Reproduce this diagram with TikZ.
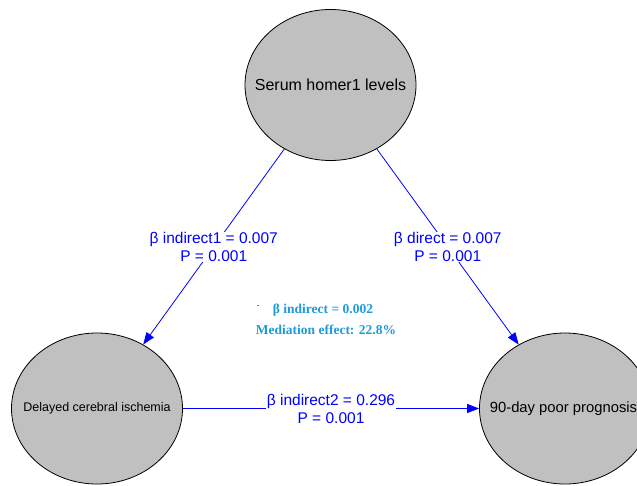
\documentclass[tikz,border=0pt]{standalone}
\usepackage{fontspec}
\setmainfont{Liberation Sans}
\newfontfamily\medfont{Liberation Serif}
\usetikzlibrary{positioning}
\usetikzlibrary{shapes.geometric}
\usetikzlibrary{arrows.meta}
\definecolor{nodegray}{RGB}{192,192,192}
\definecolor{medblue}{RGB}{30,155,215}

\begin{document}
\begin{tikzpicture}[x=1pt,y=-1pt,
  varnode/.style={ellipse,draw=black,fill=nodegray,line width=0.8pt,minimum width=171pt,minimum height=151pt,inner sep=0pt},
  effect/.style={draw=blue,line width=0.8pt,-{Triangle[length=12pt,width=9pt]}},
  coef/.style={fill=white,inner sep=0.5pt,text=blue,align=center,font=\fontsize{15.5}{18}\selectfont},
  med/.style={text=medblue,font=\medfont\bfseries\fontsize{13.5}{16}\selectfont}]
  \useasboundingbox (0,0) rectangle (637,485);

  \node [varnode,label={center:{\fontsize{16}{19}\selectfont Serum homer1 levels}}]        (homer) at (330.5,85)  {};
  \node [varnode,label={center:{\fontsize{12.5}{15}\selectfont Delayed cerebral ischemia}}] (dci)   at (97,408.5)  {};
  \node [varnode,label={[xshift=-1.5pt]center:{\fontsize{14.8}{18}\selectfont 90-day poor prognosis}}] (prog) at (565,408.5) {};

  \draw [effect] (homer) -- (dci)  node[midway,coef] {β indirect1 = 0.007\\P = 0.001};
  \draw [effect] (homer) -- (prog) node[midway,coef] {β direct = 0.007\\P = 0.001};
  \draw [effect] (dci) -- (prog)   node[midway,coef] {β indirect2 = 0.296\\P = 0.001};

  \node [text=darkgray,font=\fontsize{9}{10}\selectfont] (dash) at (258,307) {-};
  \node [med] (medb) at (323,310) {β indirect = 0.002};
  \node [med] (mede) at (326,330) {Mediation effect: 22.8\%};
\end{tikzpicture}
\end{document}
